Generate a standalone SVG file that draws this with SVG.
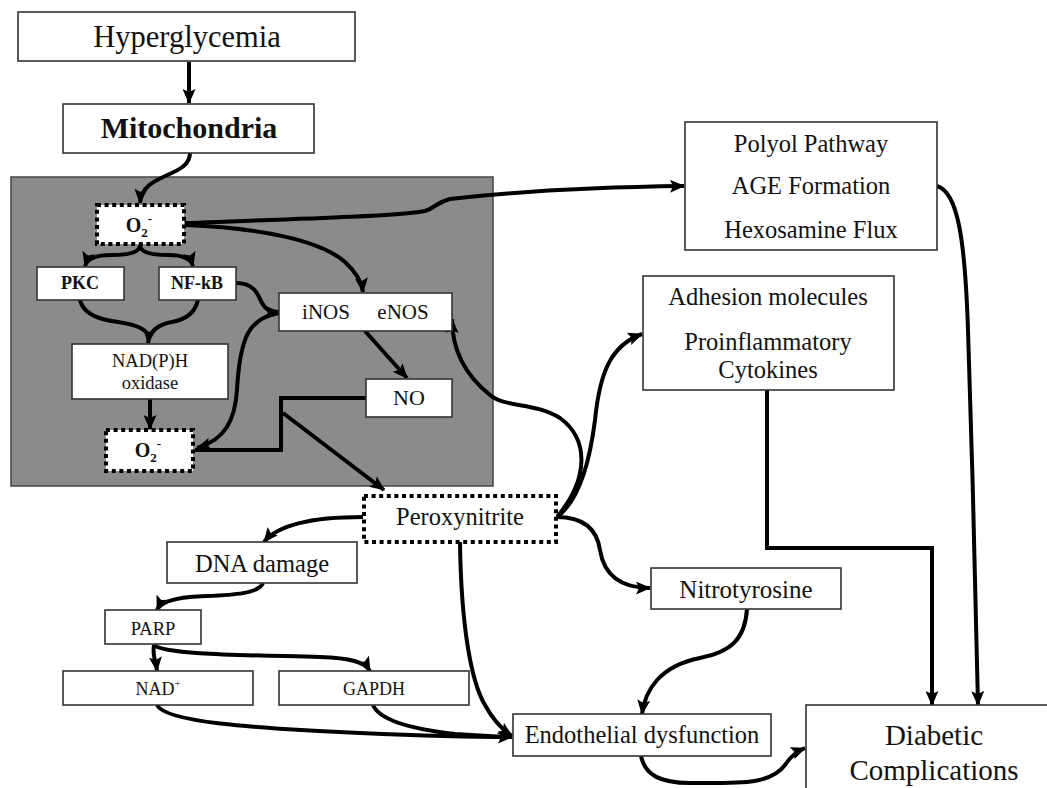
<svg xmlns="http://www.w3.org/2000/svg" width="1047" height="788" viewBox="0 0 1047 788">
<defs>
<style>
.box{fill:#fff;stroke:#333;stroke-width:1.6}
.dot{fill:#fff;stroke:#000;stroke-width:4;stroke-dasharray:4 3.6}
.t{font-family:"Liberation Serif","Times New Roman",serif;fill:#111;text-anchor:middle}
.b{font-weight:bold}
.c{fill:none;stroke:#000;stroke-width:4;stroke-linecap:butt;stroke-linejoin:miter}
.a{marker-end:url(#ah)}
</style>
<marker id="ah" viewBox="0 0 15 13" markerWidth="15" markerHeight="13" markerUnits="userSpaceOnUse" refX="14" refY="6.5" orient="auto">
<path d="M0,0 L15,6.5 L0,13 L3,6.5 z" fill="#000"/>
</marker>
</defs>
<rect x="0" y="0" width="1047" height="788" fill="#fff"/>

<g id="panel">
<rect x="11" y="177" width="482" height="309" fill="#8b8b8b" stroke="#444" stroke-width="1.5"/>
</g>

<g id="connectors">
<path class="c a" d="M189,62 V103"/>
<path class="c a" d="M190,153 C190,178 142,172 140,203"/>
<path class="c a" d="M185,223 C300,219 400,216 425,211 C435,208 437,202 450,199 C520,191 600,187 684,186"/>
<path class="c a" d="M185,225 C260,228 320,240 345,262 C358,274 362,283 363,292"/>
<path class="c a" d="M140,245 Q140,255 112,255 Q88,255 85,266"/>
<path class="c a" d="M140,245 Q140,255 168,255 Q190,255 193,266"/>
<path class="c" d="M80,300 Q84,318 118,322 Q146,326 148,336"/>
<path class="c a" d="M198,300 Q194,318 172,322 Q150,326 148,343"/>
<path class="c a" d="M236,283 C255,283 258,295 262,303 C266,310 270,312 279,312"/>
<path class="c a" d="M150,399 V429"/>
<path class="c a" d="M279,313 C250,318 240,335 237,390 C235,420 225,440 197,448"/>
<path class="c" d="M366,398 H281 V450 H195" stroke-width="5"/>
<path class="c a" d="M365,331 L407,378"/>
<path class="c a" d="M283,413 L384,490"/>
<path class="c a" d="M363,517 C320,517 280,522 264,542"/>
<path class="c a" d="M263,583 C258,596 220,595 190,597 C170,599 160,603 157,610"/>
<path class="c a" d="M154,645 C152,655 156,662 157,671"/>
<path class="c a" d="M154,645 C165,655 250,655 320,657 C350,658 365,662 370,671"/>
<path class="c a" d="M157,705 C165,722 250,728 360,733 C430,736 480,737 512,737"/>
<path class="c" d="M373,705 C380,722 420,730 455,734 L505,737"/>
<path class="c a" d="M460,542 C461,620 470,680 485,705 C492,718 500,728 512,736"/>
<path class="c a" d="M557,517 C585,517 597,530 600,550 C604,575 620,588 650,588"/>
<path class="c a" d="M557,517 C580,500 590,460 595,420 C600,370 612,345 642,334"/>
<path class="c a" d="M557,517 C588,480 590,440 560,418 C535,402 505,408 490,395 C465,375 452,350 452,319"/>
<path class="c a" d="M747,609 C745,640 730,652 700,658 C660,666 645,690 642,714"/>
<path class="c a" d="M767,390 V548 H932 V705"/>
<path class="c a" d="M937,186 C958,192 965,240 968,330 C972,450 976,600 978,705"/>
<path class="c a" d="M641,756 C645,775 660,783 690,783 C740,783 770,785 785,765 C790,757 795,752 805,748"/>
</g>

<g id="hyperglycemia">
<rect class="box" x="18" y="12" width="337" height="49"/>
<text class="t" x="187" y="47" font-size="30.5">Hyperglycemia</text>
</g>
<g id="mitochondria">
<rect class="box" x="63" y="104" width="251" height="49"/>
<text class="t b" x="189" y="138" font-size="30">Mitochondria</text>
</g>
<g id="o2top">
<rect class="dot" x="97" y="205" width="87" height="39"/>
<text class="t b" x="139" y="232" font-size="20">O<tspan font-size="13" dy="5">2</tspan><tspan font-size="13" dy="-14">-</tspan></text>
</g>
<g id="pkc">
<rect class="box" x="37" y="267" width="87" height="33"/>
<text class="t b" x="80" y="289" font-size="18">PKC</text>
</g>
<g id="nfkb">
<rect class="box" x="159" y="267" width="77" height="33"/>
<text class="t b" x="197" y="289" font-size="18">NF-kB</text>
</g>
<g id="nos">
<rect class="box" x="279" y="293" width="173" height="38"/>
<text class="t" x="326" y="319" font-size="21">iNOS</text>
<text class="t" x="403" y="319" font-size="21">eNOS</text>
</g>
<g id="nadph">
<rect class="box" x="72" y="344" width="156" height="55"/>
<text class="t" x="150" y="367" font-size="18.5">NAD(P)H</text>
<text class="t" x="150" y="389" font-size="18.5">oxidase</text>
</g>
<g id="no">
<rect class="box" x="366" y="379" width="86" height="38"/>
<text class="t" x="409" y="405" font-size="22">NO</text>
</g>
<g id="o2bottom">
<rect class="dot" x="106" y="430" width="87" height="41"/>
<text class="t b" x="148" y="457" font-size="20">O<tspan font-size="13" dy="5">2</tspan><tspan font-size="13" dy="-14">-</tspan></text>
</g>
<g id="polyol">
<rect class="box" x="685" y="122" width="252" height="128"/>
<text class="t" x="811" y="152" font-size="24.5">Polyol Pathway</text>
<text class="t" x="811" y="194" font-size="24.5">AGE Formation</text>
<text class="t" x="811" y="238" font-size="24.5">Hexosamine Flux</text>
</g>
<g id="adhesion">
<rect class="box" x="643" y="276" width="251" height="114"/>
<text class="t" x="768" y="305" font-size="24.5">Adhesion molecules</text>
<text class="t" x="768" y="350" font-size="24.5">Proinflammatory</text>
<text class="t" x="768" y="378" font-size="24.5">Cytokines</text>
</g>
<g id="peroxynitrite">
<rect class="dot" x="364" y="496" width="192" height="46"/>
<text class="t" x="460" y="525" font-size="24.5">Peroxynitrite</text>
</g>
<g id="dna">
<rect class="box" x="167" y="542" width="190" height="41"/>
<text class="t" x="262" y="572" font-size="24.5">DNA damage</text>
</g>
<g id="parp">
<rect class="box" x="105" y="610" width="96" height="34"/>
<text class="t" x="153" y="635" font-size="18.5">PARP</text>
</g>
<g id="nad">
<rect class="box" x="63" y="671" width="190" height="34"/>
<text class="t" x="158" y="695" font-size="18">NAD<tspan font-size="11" dy="-8">+</tspan></text>
</g>
<g id="gapdh">
<rect class="box" x="279" y="671" width="190" height="34"/>
<text class="t" x="374" y="695" font-size="18">GAPDH</text>
</g>
<g id="nitrotyrosine">
<rect class="box" x="651" y="568" width="190" height="41"/>
<text class="t" x="746" y="598" font-size="25">Nitrotyrosine</text>
</g>
<g id="endothelial">
<rect class="box" x="513" y="714" width="258" height="42"/>
<text class="t" x="642" y="743" font-size="24.5">Endothelial dysfunction</text>
</g>
<g id="diabetic">
<rect class="box" x="806" y="705" width="250" height="100"/>
<text class="t" x="934" y="745" font-size="29">Diabetic</text>
<text class="t" x="934" y="780" font-size="29">Complications</text>
</g>
</svg>
